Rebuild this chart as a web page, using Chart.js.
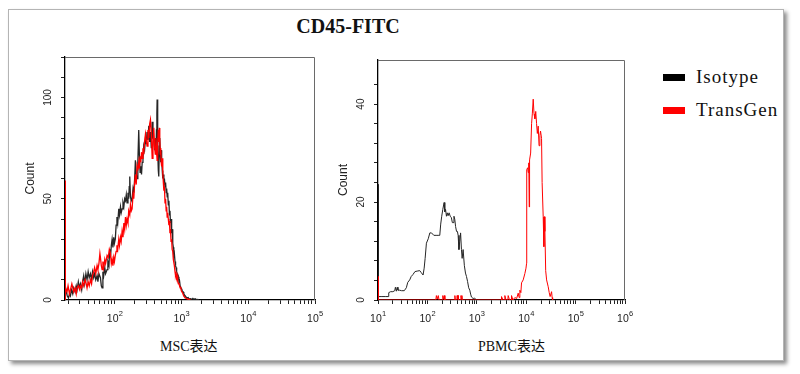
<!DOCTYPE html>
<html lang="zh">
<head>
<meta charset="UTF-8">
<title>CD45-FITC</title>
<script src="https://cdn.jsdelivr.net/npm/chart.js"></script>
<style>
  body { margin: 0; background: #fff; }
  #page { position: relative; width: 800px; height: 374px; overflow: hidden; }
  #box { position: absolute; left: 8px; top: 9px; width: 774px; height: 350px; border: 1px solid #b4b4b4;
         box-shadow: 3px 3px 4px rgba(0,0,0,0.45); background: #fff; }
  canvas { position: absolute; top: 0; }
  #title { position: absolute; left: 248px; width: 200px; top: 14.5px; line-height: 24px; text-align: center;
           font: bold 20px "Liberation Serif", "Times New Roman", serif; color: #111; }
  .sw { position: absolute; left: 663px; width: 22px; height: 7px; }
  .lg { position: absolute; left: 696px; line-height: 22px; font: 19px "Liberation Serif", serif; letter-spacing: 1px; color: #111; }
  .xl { position: absolute; top: 335px; line-height: 18px; font: 14px "Liberation Serif", "Noto Sans CJK SC", serif; color: #111; }
</style>
</head>
<body>
<div id="page">
  <div id="box"></div>
  <div id="title">CD45-FITC</div>
  <canvas id="msc" width="330" height="330" style="left:0"></canvas>
  <canvas id="pbmc" width="310" height="330" style="left:330px"></canvas>
  <div class="sw" style="top:74px;background:#000"></div>
  <div class="lg" style="top:65.5px">Isotype</div>
  <div class="sw" style="top:107px;background:#f00"></div>
  <div class="lg" style="top:98.5px">TransGen</div>
  <div class="xl" style="left:160px">MSC表达</div>
  <div class="xl" style="left:478px">PBMC表达</div>
</div>
<script>
// MSC panel: [intensity, count]
const mscIsotype = [[18,8],[18.8,4],[19.5,2],[20.3,1],[21,3],[21.7,2],[22.5,5],[23.5,3],[24.3,6],[25.5,4],[26.5,7],[27.3,5],[28.5,9],[29.5,6],[30.6,8],[32,5],[33,9],[34.3,12],[35.5,8],[37,13],[38.5,10],[40,14],[41.5,11],[43.3,13],[45,10],[46.5,14],[48.4,11],[50,13],[52,10],[54.4,12],[56,9],[58,13],[61.1,11],[63,7],[64.7,6],[66.5,14],[68.4,12],[71,16],[73,13],[76.9,15],[79,19],[82,17],[84,25],[86.3,21],[89,27],[91.4,30],[94,26],[96.6,31],[99,28],[102,30],[105,37],[108,41],[111,38],[115,45],[118,42],[122,46],[125,43],[129,45],[133,48],[137,46],[141,50],[145,49],[149,52],[153,48],[158,53],[162,50],[165,56],[168,61],[172,51],[177,49],[182,50],[188,55],[193,53],[199,60],[204,69],[210,62],[216,60],[222,68],[229,84],[234,72],[240,63],[246,66],[252,62],[258,68],[265,70],[272,76],[280,74],[289,80],[297,77],[305,83],[315,79],[324,86],[334,78],[343,83],[353,75],[364,88],[374,80],[385,79],[395,74],[405,80],[414,72],[422,84],[428,92],[432,99],[437,86],[443,74],[450,64],[457,61],[465,76],[473,80],[481,72],[489,68],[497,74],[505,70],[515,64],[525,60],[535,62],[545,57],[555,60],[567,56],[578,58],[590,53],[600,55],[611,51],[622,53],[635,47],[648,49],[660,42],[672,44],[684,38],[698,40],[712,33],[725,35],[740,28],[755,26],[767,22],[782,23],[800,19],[815,17],[830,16],[846,14],[862,13],[880,11],[898,11.5],[916,9],[935,9.5],[955,7],[975,7],[995,5.5],[1015,5],[1040,4],[1065,4],[1084,3],[1110,2.5],[1140,2],[1170,1.5],[1218,1],[1260,1.2],[1300,0.5],[1365,0.6],[1420,0.3],[1480,0.8],[1531,0.3],[1600,0.6],[1680,0.2],[1760,0.3],[1820,0]];
const mscTransGen = [[18,0],[18,59],[18.4,6],[19.3,4],[20,7],[21,3],[21.7,5],[22.8,8],[24.3,4],[25.5,6],[26.5,3],[27.3,6],[28.5,7],[30,5],[30.6,7],[32,6],[33,9],[34.3,7],[36,10],[37.5,8],[38.5,6],[40,9],[41.5,7],[43.3,10],[45,8],[46.5,12],[48.4,14],[50,16],[52,13],[54.4,17],[56,15],[58,18],[60,23],[61.1,21],[63,17],[64.7,15],[66.5,19],[68.4,16],[71,20],[73,18],[76.9,22],[80,21],[83,25],[86.3,23],[89,18],[91.4,20],[94,17],[96.6,21],[99,19],[102,22],[105,24],[108,27],[111,25],[115,30],[118,27],[122,31],[125,29],[129,34],[133,31],[137,38],[141,35],[145,41],[149,37],[153,40],[158,38],[162,44],[168,42],[172,47],[177,44],[182,45],[188,52],[193,50],[199,58],[204,62],[210,57],[216,66],[222,64],[229,68],[234,65],[240,71],[246,68],[252,73],[258,70],[265,75],[272,72],[280,78],[289,82],[297,79],[305,76],[315,84],[324,80],[334,87],[343,89],[353,82],[364,70],[374,78],[385,85],[395,76],[405,72],[414,80],[422,74],[432,69],[440,77],[450,84],[457,78],[465,85],[473,80],[481,72],[489,75],[497,68],[505,66],[515,70],[525,63],[535,58],[545,54],[555,56],[567,48],[578,50],[590,44],[600,46],[611,41],[622,43],[635,40],[648,37],[660,39],[672,33],[684,35],[698,29],[712,30],[725,25],[740,24],[755,20],[767,20],[782,17],[800,14],[815,12],[830,13],[846,11],[862,12],[880,9],[898,8],[916,8.5],[935,7],[955,6],[975,6.5],[995,4.5],[1015,4],[1040,3.5],[1065,2.5],[1084,2.5],[1110,1.5],[1140,1.2],[1170,0.8],[1218,0.6],[1260,0.3],[1300,0.4],[1365,0]];

// PBMC panel: [intensity, count]
const pbmcIsotype = [[10,23.6],[10.2,0.7],[12,0.7],[14,0.7],[16,0.7],[16.5,1.5],[18,1.7],[20,1.7],[21.8,1.9],[22.5,2.6],[23.5,1.8],[24.5,2.6],[25.4,2.0],[27.5,2.0],[30,1.9],[34,1.9],[37.5,2.5],[40,3.6],[43.8,4.1],[47,4.8],[51,5.2],[56,5.8],[62,5.9],[69.9,6.0],[75,5.6],[81.7,5.1],[86,6.5],[90,8.5],[95.5,11.6],[104,12.5],[112,13.7],[121,13.7],[135,13.2],[150,13.2],[165,13.2],[178,13.2],[186,15.5],[195,17.1],[205,18.5],[218,19.9],[225,18.0],[233,18.5],[243,17.1],[252,17.8],[262,17.2],[275,17.8],[290,17.1],[306,16.8],[320,15.8],[331,15.8],[345,17.1],[358,16.5],[372,15.0],[389,14.0],[405,14.0],[419,13.2],[435,10.3],[452,12.0],[470,13.7],[489,10.3],[505,8.5],[528,10.3],[560,7.0],[590,5.5],[618,4.8],[650,3.8],[685,2.5],[721,2.0],[750,1.2],[780,0.6],[843,0.3],[900,0.4],[985,0]];
const pbmcTransGen = [[10,4.8],[10.2,0],[148,0],[152,0.9],[158,0.2],[166,0.9],[172,0],[200,0],[205,0.9],[212,0.2],[220,0.9],[226,0],[355,0],[360,0.9],[368,0],[395,0],[400,0.9],[408,0.2],[418,0.9],[425,0],[470,0],[478,0.9],[490,0.2],[500,0.9],[510,0],[3100,0],[3162,0.7],[3400,0],[3650,0],[3700,0.9],[3900,0],[4250,0],[4318,0.9],[4600,0],[4950,0],[5046,0.9],[5400,0],[5893,0.5],[6400,0.3],[6887,1.4],[7200,0.5],[7443,2.0],[7800,1.5],[8050,3.5],[8690,4.1],[9400,5.4],[9900,6.5],[10180,7.5],[10200,13.7],[10250,19.9],[10300,26.6],[10700,27],[11000,26],[11300,28],[11510,19],[11700,28.6],[12300,30],[12850,36],[13300,38],[13870,41],[14400,38],[15000,37],[15600,38.5],[16220,36],[16800,34],[17500,35.5],[18200,31.5],[18920,33.6],[19500,34.5],[20460,33],[21000,24],[22080,17],[22800,10.9],[23400,17],[23920,14],[24800,6],[25880,4.1],[27900,2.7],[29250,1.5],[30500,0.7],[32660,1.7],[33500,0.5],[34280,0]];

// axis labels
const mscDecades = [2, 3, 4, 5];
const pbmcDecades = [1, 2, 3, 4, 5, 6];
const mscCountLabels = [0, 50, 100];
const pbmcCountLabels = [0, 20, 40];

// 1..9 x 10^n tick marks between min and max
function logTicks(min, max) {
  const out = [];
  for (let e = Math.floor(Math.log10(min)); e <= Math.ceil(Math.log10(max)); e++) {
    for (let k = 1; k < 10; k++) {
      const v = k * Math.pow(10, e);
      if (v >= min * 0.999 && v <= max * 1.001) out.push({ value: v });
    }
  }
  return out;
}

const panelText = {
  id: 'panelText',
  afterDraw(chart, args, opts) {
    const { ctx, chartArea: a, scales } = chart;
    ctx.save();
    // grey frame on top and right
    ctx.strokeStyle = '#6a6a6a';
    ctx.lineWidth = 1;
    ctx.beginPath();
    ctx.moveTo(a.left, a.top + 0.5);
    ctx.lineTo(a.right - 0.5, a.top + 0.5);
    ctx.lineTo(a.right - 0.5, a.bottom);
    ctx.stroke();

    ctx.fillStyle = '#222';
    ctx.textAlign = 'center';
    ctx.textBaseline = 'middle';
    ctx.font = '10px "Liberation Sans", Arial, sans-serif';
    opts.yLabels.forEach(v => {
      ctx.save();
      ctx.translate(a.left - 17, scales.y.getPixelForValue(v));
      ctx.rotate(-Math.PI / 2);
      ctx.fillText(String(v), 0, 0);
      ctx.restore();
    });

    ctx.save();
    ctx.font = '12px "Liberation Sans", Arial, sans-serif';
    ctx.translate(a.left - 34, (a.top + a.bottom) / 2);
    ctx.rotate(-Math.PI / 2);
    ctx.fillText('Count', 0, 0);
    ctx.restore();

    ctx.textAlign = 'left';
    ctx.textBaseline = 'alphabetic';
    opts.decades.forEach(e => {
      const x = scales.x.getPixelForValue(Math.pow(10, e));
      ctx.font = '10.5px "Liberation Sans", Arial, sans-serif';
      const w1 = ctx.measureText('10').width;
      ctx.font = '7.5px "Liberation Sans", Arial, sans-serif';
      const w2 = ctx.measureText(String(e)).width;
      const x0 = x - (w1 + w2) / 2;
      ctx.font = '10.5px "Liberation Sans", Arial, sans-serif';
      ctx.fillText('10', x0, a.bottom + 21.5);
      ctx.font = '7.5px "Liberation Sans", Arial, sans-serif';
      ctx.fillText(String(e), x0 + w1 + 0.3, a.bottom + 15.5);
    });
    ctx.restore();
  }
};

function histChart(id, iso, tg, o) {
  const pts = arr => arr.map(p => ({ x: p[0], y: p[1] }));
  return new Chart(document.getElementById(id), {
    type: 'line',
    data: {
      datasets: [
        { label: 'Isotype', data: pts(iso), borderColor: '#262626', borderWidth: o.lw, pointRadius: 0, order: 1 },
        { label: 'TransGen', data: pts(tg), borderColor: '#ff0000', borderWidth: o.lw, pointRadius: 0, order: 0 }
      ]
    },
    options: {
      responsive: false,
      animation: false,
      layout: { padding: { top: o.top, right: 15, left: 0, bottom: 0 } },
      plugins: { legend: { display: false }, tooltip: { enabled: false }, panelText: { yLabels: o.yLabels, decades: o.decades } },
      scales: {
        x: {
          type: 'logarithmic', min: o.xmin, max: o.xmax,
          afterBuildTicks: s => { s.ticks = logTicks(o.xmin, o.xmax); },
          afterFit: s => { s.height = 30; },
          ticks: { display: false },
          grid: { drawOnChartArea: false, drawTicks: true, tickLength: 4, color: '#222' },
          border: { display: true, color: '#000', width: 1.3 }
        },
        y: {
          type: 'linear', min: 0, max: o.ymax,
          afterBuildTicks: s => { s.ticks = s.ticks.filter(t => t.value % o.ystep === 0); },
          afterFit: s => { s.width = o.yw; },
          ticks: { display: false, stepSize: o.ystep },
          grid: { drawOnChartArea: false, drawTicks: true, tickLength: 4, color: '#222' },
          border: { display: true, color: '#000', width: 1.3 }
        }
      }
    },
    plugins: [panelText]
  });
}

histChart('msc', mscIsotype, mscTransGen, { lw: 1.3, top: 57, yw: 65, xmin: 18, xmax: 100000, ymax: 120, ystep: 10, yLabels: mscCountLabels, decades: mscDecades });
histChart('pbmc', pbmcIsotype, pbmcTransGen, { lw: 1, top: 60, yw: 48, xmin: 10, xmax: 1000000, ymax: 49, ystep: 4, yLabels: pbmcCountLabels, decades: pbmcDecades });
</script>
</body>
</html>
